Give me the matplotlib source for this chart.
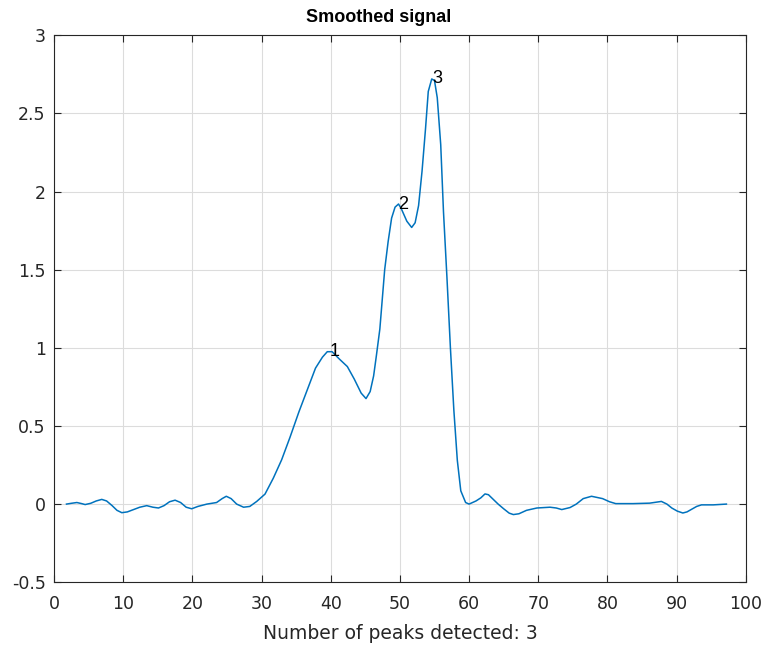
import matplotlib
matplotlib.use('Agg')
import matplotlib.pyplot as plt

# points
xs = [1.8, 2.5, 3.3, 4.0, 4.5, 5.3, 6.1, 6.9, 7.6, 8.4, 9.1, 9.8, 10.6, 11.5,
      12.4, 13.4, 14.3, 15.1, 15.9, 16.7, 17.5, 18.3, 19.1, 19.9, 20.8, 22.1,
      23.5, 24.3, 24.9, 25.6, 26.4, 27.4, 28.3, 29.3, 30.5, 31.7, 32.9, 34.1,
      35.4, 36.6, 37.8, 38.8, 39.5, 40.2, 41.2, 42.4, 43.4, 44.4, 45.1, 45.7,
      46.2, 46.6, 47.1, 47.8, 48.3, 48.8, 49.3, 49.8, 50.2, 51.0, 51.7, 52.2,
      52.7, 53.2, 53.7, 54.1, 54.6, 55.0, 55.4, 55.9, 56.3, 56.8, 57.3, 57.8,
      58.3, 58.8, 59.5, 60.0, 61.0, 61.7, 62.3, 62.8, 63.5, 64.2, 65.0, 65.8,
      66.4, 67.2, 68.3, 69.8, 71.7, 72.6, 73.4, 74.6, 75.5, 76.5, 77.7, 79.3,
      80.3, 81.2, 83.7, 86.1, 87.8, 88.6, 89.3, 90.1, 90.9, 91.5, 92.1, 92.9,
      93.6, 95.3, 97.2]
ys = [0.0, 0.005, 0.01, 0.003, -0.003, 0.005, 0.02, 0.03, 0.02, -0.01, -0.04,
      -0.055, -0.05, -0.035, -0.02, -0.01, -0.02, -0.025, -0.01, 0.015, 0.025,
      0.01, -0.02, -0.03, -0.015, 0.0, 0.01, 0.035, 0.05, 0.035, 0.0, -0.02,
      -0.015, 0.017, 0.064, 0.166, 0.283, 0.426, 0.59, 0.73, 0.87, 0.94, 0.975,
      0.975, 0.93, 0.88, 0.80, 0.71, 0.675, 0.72, 0.82, 0.95, 1.12, 1.5, 1.68,
      1.83, 1.90, 1.92, 1.89, 1.81, 1.77, 1.80, 1.91, 2.13, 2.40, 2.64, 2.72,
      2.71, 2.60, 2.30, 1.87, 1.45, 1.0, 0.60, 0.28, 0.085, 0.01, 0.0, 0.02,
      0.04, 0.065, 0.06, 0.03, 0.0, -0.03, -0.058, -0.067, -0.062, -0.04,
      -0.025, -0.02, -0.025, -0.035, -0.022, 0.0, 0.035, 0.05, 0.035, 0.015,
      0.003, 0.003, 0.006, 0.017, 0.0, -0.025, -0.045, -0.057, -0.05, -0.035,
      -0.015, -0.005, -0.005, 0.0]

peak_x = [39.8, 49.8, 54.7]
peak_y = [0.975, 1.92, 2.72]
peak_labels = ['1', '2', '3']

xticks = list(range(0, 101, 10))
yticks = [-0.5, 0, 0.5, 1, 1.5, 2, 2.5, 3]
ytick_labels = ['-0.5', '0', '0.5', '1', '1.5', '2', '2.5', '3']

plt.rcParams['font.family'] = ['DejaVu Sans']
dark = '#262626'

fig = plt.figure(figsize=(7.61, 6.52), dpi=100)
ax = fig.add_axes([0.071, 0.107, 0.909, 0.839])
ax.plot(xs, ys, color='#0072BD', lw=1.1)
for px, py, lab in zip(peak_x, peak_y, peak_labels):
    ax.text(px, py, lab, fontsize=13, ha='left', va='center', color='black',
            family='Liberation Sans')

ax.set_xlim(0, 100)
ax.set_ylim(-0.5, 3)
ax.set_xticks(xticks)
ax.set_yticks(yticks)
ax.set_yticklabels(ytick_labels)
ax.grid(True, color='#dcdcdc', lw=0.8)
ax.set_axisbelow(True)
ax.tick_params(direction='in', top=True, right=True, length=5, labelsize=12.5,
               colors=dark, width=0.8)
ax.tick_params(axis='x', pad=9)
ax.tick_params(axis='y', pad=6)
for s in ax.spines.values():
    s.set_color(dark)
    s.set_linewidth(0.8)
ax.set_title('Smoothed signal', fontsize=13, fontweight='bold', pad=9.5,
             x=0.469, family='Liberation Sans')
ax.set_xlabel('Number of peaks detected: 3', fontsize=13.5, color=dark, labelpad=8)

plt.savefig('out.png', dpi=100)
plt.close()
